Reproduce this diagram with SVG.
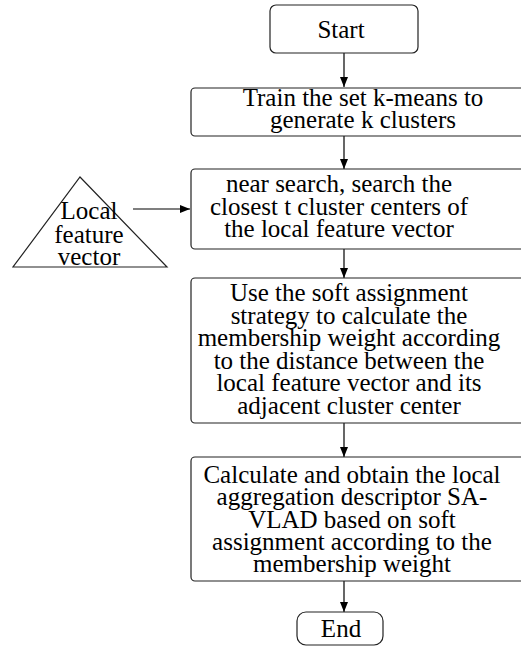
<svg xmlns="http://www.w3.org/2000/svg" width="521" height="646" viewBox="0 0 521 646">
<style>
.box{fill:#fff;stroke:#222;stroke-width:1.2}
.t{font-family:"Liberation Serif","Times New Roman",serif;font-size:25px;fill:#000;text-anchor:middle}
.c{stroke:#000;stroke-width:1.2;fill:none}
</style>
<defs>
<marker id="ah" markerWidth="10" markerHeight="8" refX="10" refY="4" orient="auto" markerUnits="userSpaceOnUse">
<path d="M0,0 L10,4 L0,8 Z" fill="#000"/>
</marker>
</defs>
<rect width="521" height="646" fill="#fff"/>
<g id="connectors">
<line class="c" x1="344" y1="53" x2="344" y2="87" marker-end="url(#ah)"/>
<line class="c" x1="344" y1="136" x2="344" y2="169" marker-end="url(#ah)"/>
<line class="c" x1="344" y1="249" x2="344" y2="278" marker-end="url(#ah)"/>
<line class="c" x1="344" y1="423" x2="344" y2="457" marker-end="url(#ah)"/>
<line class="c" x1="344" y1="581" x2="344" y2="612" marker-end="url(#ah)"/>
<line class="c" x1="133" y1="209" x2="190" y2="209" marker-end="url(#ah)"/>
</g>
<g id="start">
<rect class="box" x="270" y="5" width="148" height="48" rx="6"/>
<text class="t" x="341" y="38">Start</text>
</g>
<g id="train">
<rect class="box" x="191" y="88" width="345" height="48" rx="4"/>
<text class="t" x="363" y="106">Train the set k-means to</text>
<text class="t" x="363" y="128">generate k clusters</text>
</g>
<g id="search">
<rect class="box" x="191" y="169" width="345" height="80" rx="4"/>
<text class="t" x="339" y="192">near search, search the</text>
<text class="t" x="339" y="214.5">closest t cluster centers of</text>
<text class="t" x="339" y="237">the local feature vector</text>
</g>
<g id="local">
<polygon class="box" points="80,177 167,267 13,267"/>
<text class="t" x="89" y="219">Local</text>
<text class="t" x="89" y="243">feature</text>
<text class="t" x="89" y="265">vector</text>
</g>
<g id="soft">
<rect class="box" x="191" y="278" width="345" height="145" rx="4"/>
<text class="t" x="349" y="301">Use the soft assignment</text>
<text class="t" x="349" y="323.5">strategy to calculate the</text>
<text class="t" x="349" y="346">membership weight according</text>
<text class="t" x="349" y="368.5">to the distance between the</text>
<text class="t" x="349" y="391">local feature vector and its</text>
<text class="t" x="349" y="413.5">adjacent cluster center</text>
</g>
<g id="calc">
<rect class="box" x="191" y="457" width="345" height="124" rx="4"/>
<text class="t" x="352" y="483">Calculate and obtain the local</text>
<text class="t" x="352" y="505">aggregation descriptor SA-</text>
<text class="t" x="352" y="528">VLAD based on soft</text>
<text class="t" x="352" y="550">assignment according to the</text>
<text class="t" x="352" y="572">membership weight</text>
</g>
<g id="end">
<rect class="box" x="297" y="612" width="86" height="33" rx="9"/>
<text class="t" x="341" y="637">End</text>
</g>
</svg>
